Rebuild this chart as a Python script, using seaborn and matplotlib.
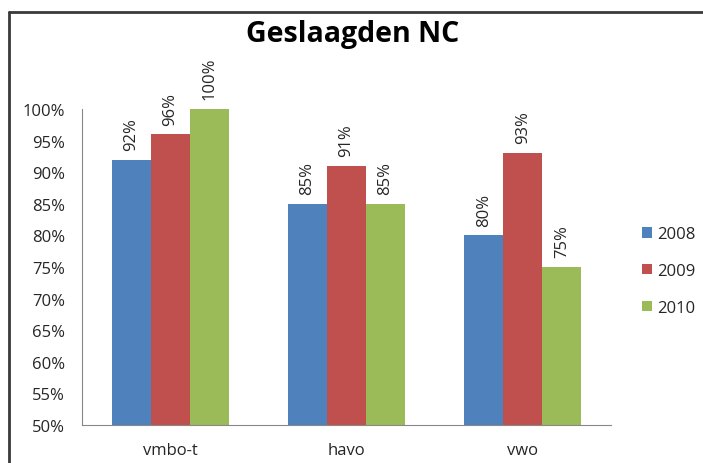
import matplotlib
matplotlib.use("Agg")
import matplotlib.pyplot as plt
from matplotlib.lines import Line2D
from matplotlib.ticker import FuncFormatter, FixedLocator
import seaborn as sns
import pandas as pd

categories = ["vmbo-t", "havo", "vwo"]
years = ["2008", "2009", "2010"]
pct_2008 = [92, 85, 80]
pct_2009 = [96, 91, 93]
pct_2010 = [100, 85, 75]
colors = ["#4F81BD", "#C0504D", "#9BBB59"]

rows = []
for yr, vals in zip(years, [pct_2008, pct_2009, pct_2010]):
    for cat, v in zip(categories, vals):
        rows.append({"niveau": cat, "jaar": yr, "pct": v})
df = pd.DataFrame(rows)

sns.set_style("white")
plt.rcParams["font.family"] = ["Open Sans", "DejaVu Sans"]

fig = plt.figure(figsize=(7.03, 4.64), dpi=100)
ax = fig.add_axes([0.1166, 0.082, 0.7525, 0.681])

sns.barplot(data=df, x="niveau", y="pct", hue="jaar", palette=colors,
            width=0.663, saturation=1, linewidth=0, ax=ax, legend=True)

ax.set_ylim(50, 100)
ax.set_xlim(-0.5, 2.5)
ax.set_yticks(range(50, 101, 5))
ax.yaxis.set_major_formatter(FuncFormatter(lambda v, p: f"{int(v)}%"))
ax.set_xlabel("")
ax.set_ylabel("")

# category boundary ticks like excel
ax.xaxis.set_minor_locator(FixedLocator([-0.5, 0.5, 1.5, 2.5]))
ax.tick_params(axis="x", which="major", length=0, pad=12, labelsize=12, colors="#262626")
ax.tick_params(axis="x", which="minor", length=5, width=0.8, color="#888888", direction="out")
ax.tick_params(axis="y", length=4, width=0.8, color="#888888", direction="out",
               labelsize=12, labelcolor="#262626", pad=8)

for side in ["top", "right"]:
    ax.spines[side].set_visible(False)
for side in ["left", "bottom"]:
    ax.spines[side].set_color("#888888")
    ax.spines[side].set_linewidth(0.8)

for cont in ax.containers:
    ax.bar_label(cont, labels=[f"{int(v)}%" for v in cont.datavalues],
                 rotation=90, padding=7, fontsize=12, color="#262626", clip_on=False)

leg = ax.legend(loc="center left", bbox_to_anchor=(1.058, 0.487), frameon=False,
                fontsize=12, handlelength=0.6, handleheight=0.6, handletextpad=0.35,
                labelspacing=1.25, borderpad=0, borderaxespad=0)
for t in leg.get_texts():
    t.set_color("#262626")

fig.text(0.501, 0.925, "Geslaagden NC", ha="center", va="center",
         fontsize=20.5, fontweight="bold", color="black")

# outer chart frame
fig.add_artist(Line2D([0.013, 1.0], [0.973, 0.973], color="#3a3a3a", lw=2))
fig.add_artist(Line2D([0.013, 0.013], [0.0, 0.973], color="#3a3a3a", lw=2))

fig.savefig("out.png", dpi=100)
